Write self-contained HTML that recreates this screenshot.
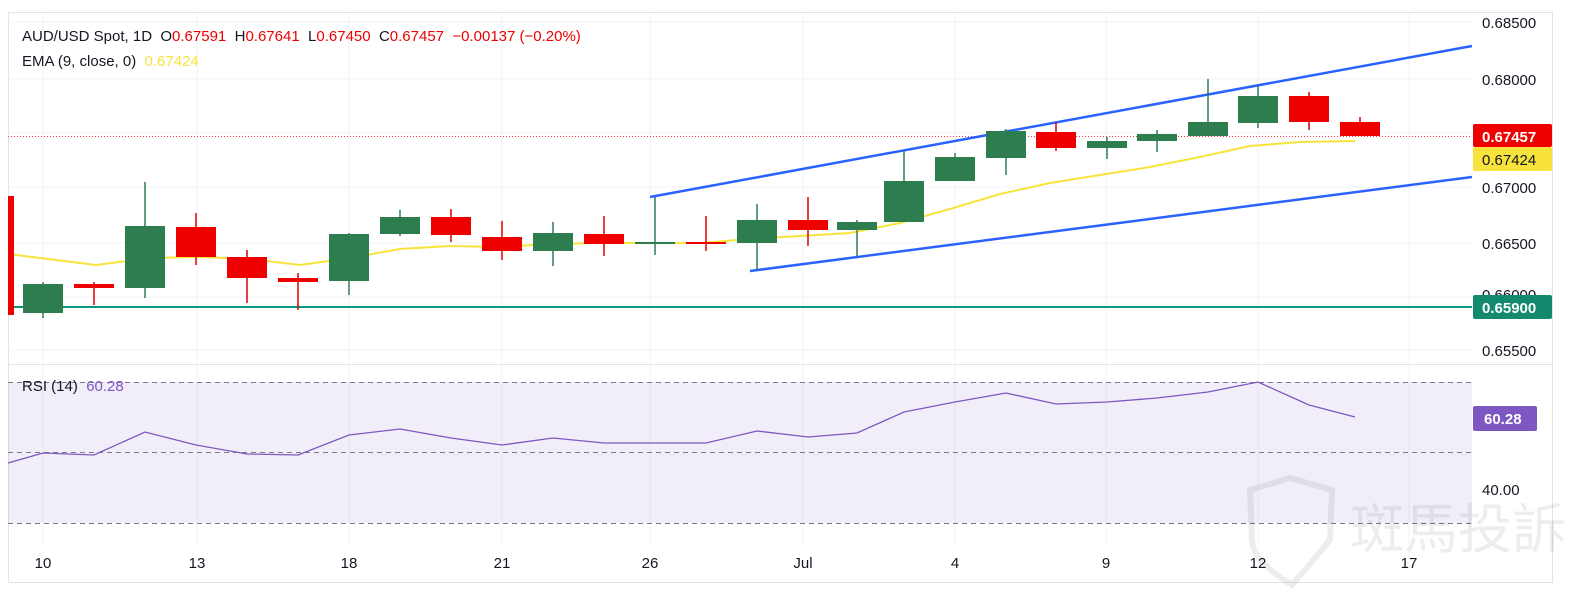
<!DOCTYPE html>
<html><head><meta charset="utf-8"><style>
body{margin:0;background:#fff;}
svg{display:block;font-family:"Liberation Sans","Noto Sans CJK TC",sans-serif;}
</style></head><body>
<svg width="1588" height="596" viewBox="0 0 1588 596" xmlns="http://www.w3.org/2000/svg">
<rect x="0" y="0" width="1588" height="596" fill="#fff"/>
<rect x="8.5" y="12.5" width="1544" height="570" fill="none" stroke="#e0e3eb"/>
<!-- grid -->
<g stroke="#f0f3fa" stroke-width="1">
<line x1="43" y1="13" x2="43" y2="545"/><line x1="197" y1="13" x2="197" y2="545"/><line x1="349" y1="13" x2="349" y2="545"/><line x1="502" y1="13" x2="502" y2="545"/><line x1="650" y1="13" x2="650" y2="545"/><line x1="803" y1="13" x2="803" y2="545"/><line x1="955" y1="13" x2="955" y2="545"/><line x1="1106" y1="13" x2="1106" y2="545"/><line x1="1258" y1="13" x2="1258" y2="545"/><line x1="1409" y1="13" x2="1409" y2="545"/>
<line x1="8" y1="22" x2="1472" y2="22"/><line x1="8" y1="79" x2="1472" y2="79"/><line x1="8" y1="133" x2="1472" y2="133"/><line x1="8" y1="187" x2="1472" y2="187"/><line x1="8" y1="243" x2="1472" y2="243"/><line x1="8" y1="297" x2="1472" y2="297"/><line x1="8" y1="350" x2="1472" y2="350"/>
</g>
<line x1="8" y1="364.5" x2="1552" y2="364.5" stroke="#e0e3eb"/>
<!-- RSI band -->
<rect x="8" y="382" width="1464" height="141" fill="#7e57c2" fill-opacity="0.1"/>
<g stroke="#787b86" stroke-dasharray="5,4" stroke-width="1">
<line x1="8" y1="382.5" x2="1472" y2="382.5"/><line x1="8" y1="452.5" x2="1472" y2="452.5"/><line x1="8" y1="523.5" x2="1472" y2="523.5"/>
</g>
<!-- watermark -->
<text x="1350" y="548" font-size="54" fill="#000" fill-opacity="0.07" font-family="Noto Sans CJK TC,sans-serif">斑馬投訴</text>
<path d="M1250 490 L1290 478 L1332 490 L1330 540 Q1292 585 1292 585 Q1252 560 1252 540 Z" fill="none" stroke="#000" stroke-opacity="0.07" stroke-width="6"/>
<!-- 0.659 line -->
<line x1="8" y1="307" x2="1472" y2="307" stroke="#089981" stroke-width="2"/>
<line x1="8" y1="136.5" x2="1472" y2="136.5" stroke="#f23645" stroke-dasharray="1,2"/>
<!-- channel -->
<line x1="650" y1="197" x2="1472" y2="46" stroke="#2962ff" stroke-width="2.5"/>
<line x1="750" y1="271" x2="1472" y2="177" stroke="#2962ff" stroke-width="2.5"/>
<!-- EMA -->
<polyline fill="none" stroke="#f7e33b" stroke-width="2" points="8,254 96,265 150,258 200,257 250,259 300,265 350,258 400,249 450,246 500,247 550,244 600,243 650,243 700,243 750,239 800,236 850,233 900,223 950,209 1000,194 1050,183 1100,175 1150,167 1200,157 1250,146 1300,142 1355,141"/>
<rect x="8" y="196" width="6" height="119" fill="#e00"/>
<g stroke-width="1.5">
<line x1="43" y1="282" x2="43" y2="318" stroke="#2e7d4f"/><rect x="23" y="284" width="40" height="29" fill="#2e7d4f"/>
<line x1="94" y1="282" x2="94" y2="305" stroke="#d00"/><rect x="74" y="284" width="40" height="4" fill="#e00"/>
<line x1="145" y1="182" x2="145" y2="298" stroke="#2e7d4f"/><rect x="125" y="226" width="40" height="62" fill="#2e7d4f"/>
<line x1="196" y1="213" x2="196" y2="265" stroke="#d00"/><rect x="176" y="227" width="40" height="30" fill="#e00"/>
<line x1="247" y1="250" x2="247" y2="303" stroke="#d00"/><rect x="227" y="257" width="40" height="21" fill="#e00"/>
<line x1="298" y1="273" x2="298" y2="310" stroke="#d00"/><rect x="278" y="278" width="40" height="4" fill="#e00"/>
<line x1="349" y1="233" x2="349" y2="295" stroke="#2e7d4f"/><rect x="329" y="234" width="40" height="47" fill="#2e7d4f"/>
<line x1="400" y1="210" x2="400" y2="236" stroke="#2e7d4f"/><rect x="380" y="217" width="40" height="17" fill="#2e7d4f"/>
<line x1="451" y1="209" x2="451" y2="242" stroke="#d00"/><rect x="431" y="217" width="40" height="18" fill="#e00"/>
<line x1="502" y1="221" x2="502" y2="260" stroke="#d00"/><rect x="482" y="237" width="40" height="14" fill="#e00"/>
<line x1="553" y1="222" x2="553" y2="266" stroke="#2e7d4f"/><rect x="533" y="233" width="40" height="18" fill="#2e7d4f"/>
<line x1="604" y1="216" x2="604" y2="256" stroke="#d00"/><rect x="584" y="234" width="40" height="10" fill="#e00"/>
<line x1="655" y1="197" x2="655" y2="255" stroke="#2e7d4f"/><rect x="635" y="242" width="40" height="2" fill="#2e7d4f"/>
<line x1="706" y1="216" x2="706" y2="251" stroke="#d00"/><rect x="686" y="242" width="40" height="2" fill="#e00"/>
<line x1="757" y1="204" x2="757" y2="270" stroke="#2e7d4f"/><rect x="737" y="220" width="40" height="23" fill="#2e7d4f"/>
<line x1="808" y1="197" x2="808" y2="246" stroke="#d00"/><rect x="788" y="220" width="40" height="10" fill="#e00"/>
<line x1="857" y1="220" x2="857" y2="256" stroke="#2e7d4f"/><rect x="837" y="222" width="40" height="8" fill="#2e7d4f"/>
<line x1="904" y1="151" x2="904" y2="222" stroke="#2e7d4f"/><rect x="884" y="181" width="40" height="41" fill="#2e7d4f"/>
<line x1="955" y1="153" x2="955" y2="181" stroke="#2e7d4f"/><rect x="935" y="157" width="40" height="24" fill="#2e7d4f"/>
<line x1="1006" y1="129" x2="1006" y2="175" stroke="#2e7d4f"/><rect x="986" y="131" width="40" height="27" fill="#2e7d4f"/>
<line x1="1056" y1="122" x2="1056" y2="151" stroke="#d00"/><rect x="1036" y="132" width="40" height="16" fill="#e00"/>
<line x1="1107" y1="137" x2="1107" y2="159" stroke="#2e7d4f"/><rect x="1087" y="141" width="40" height="7" fill="#2e7d4f"/>
<line x1="1157" y1="130" x2="1157" y2="152" stroke="#2e7d4f"/><rect x="1137" y="134" width="40" height="7" fill="#2e7d4f"/>
<line x1="1208" y1="79" x2="1208" y2="136" stroke="#2e7d4f"/><rect x="1188" y="122" width="40" height="14" fill="#2e7d4f"/>
<line x1="1258" y1="86" x2="1258" y2="128" stroke="#2e7d4f"/><rect x="1238" y="96" width="40" height="27" fill="#2e7d4f"/>
<line x1="1309" y1="92" x2="1309" y2="130" stroke="#d00"/><rect x="1289" y="96" width="40" height="26" fill="#e00"/>
<line x1="1360" y1="117" x2="1360" y2="136" stroke="#d00"/><rect x="1340" y="122" width="40" height="14" fill="#e00"/>
</g>
<!-- RSI line -->
<polyline fill="none" stroke="#7e57c2" stroke-width="1.3" points="8,463 43,453 94,455 145,432 196,445 247,454 298,455 349,435 400,429 451,438 502,445 553,438 604,443 655,443 706,443 757,431 808,437 857,433 904,412 955,402 1006,393 1056,404 1107,402 1157,398 1208,392 1258,382 1309,405 1355,417"/>
<!-- price axis -->
<g font-size="15" fill="#131722">
<text x="1482" y="28">0.68500</text><text x="1482" y="85">0.68000</text><text x="1482" y="193">0.67000</text><text x="1482" y="249">0.66500</text><text x="1482" y="356">0.65500</text><text x="1482" y="300">0.66000</text>
<text x="1482" y="495">40.00</text>
</g>
<rect x="1473" y="124" width="79" height="23" rx="2" fill="#e00"/><text x="1482" y="142" font-size="15" font-weight="bold" fill="#fff">0.67457</text>
<rect x="1473" y="147" width="79" height="24" rx="2" fill="#f7e33b"/><text x="1482" y="165" font-size="15" fill="#131722">0.67424</text>
<rect x="1473" y="295" width="79" height="24" rx="2" fill="#138a6e"/><text x="1482" y="313" font-size="15" font-weight="bold" fill="#fff">0.65900</text>
<rect x="1473" y="406" width="64" height="25" rx="2" fill="#7e57c2"/><text x="1484" y="424" font-size="15" font-weight="bold" fill="#fff">60.28</text>
<!-- time axis -->
<g font-size="15" fill="#131722" text-anchor="middle">
<text x="43" y="568">10</text><text x="197" y="568">13</text><text x="349" y="568">18</text><text x="502" y="568">21</text><text x="650" y="568">26</text><text x="803" y="568">Jul</text><text x="955" y="568">4</text><text x="1106" y="568">9</text><text x="1258" y="568">12</text><text x="1409" y="568">17</text>
</g>
<!-- legend -->
<text x="22" y="41" font-size="15" fill="#131722" xml:space="preserve">AUD/USD Spot, 1D  O<tspan fill="#e00">0.67591</tspan>  H<tspan fill="#e00">0.67641</tspan>  L<tspan fill="#e00">0.67450</tspan>  C<tspan fill="#e00">0.67457</tspan>  <tspan fill="#e00">−0.00137 (−0.20%)</tspan></text>
<text x="22" y="66" font-size="15" fill="#131722" xml:space="preserve">EMA (9, close, 0)  <tspan fill="#f7e33b">0.67424</tspan></text>
<text x="22" y="391" font-size="15" fill="#131722" xml:space="preserve">RSI (14)  <tspan fill="#7e57c2">60.28</tspan></text>
</svg>
</body></html>
